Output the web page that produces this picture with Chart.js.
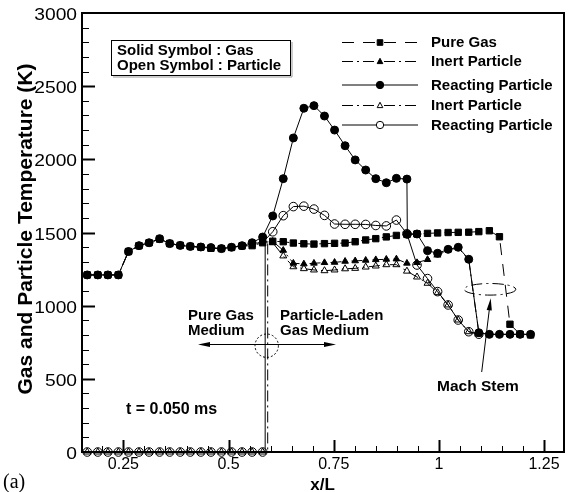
<!DOCTYPE html>
<html>
<head>
<meta charset="utf-8">
<script src="https://cdn.jsdelivr.net/npm/chart.js@4.4.1/dist/chart.umd.min.js"></script>
<style>
    html, body { margin: 0; padding: 0; background: #fff; }
    canvas { display: block; }
</style>
</head>
<body>
<canvas id="Chart" width="571" height="492"></canvas>
<script>
// x/L positions of the plotted symbols
const xL = [0.164, 0.189, 0.213, 0.238, 0.262, 0.287, 0.311, 0.336, 0.360, 0.385, 0.409, 0.434, 0.458, 0.483, 0.507,
    0.532, 0.556, 0.581, 0.605, 0.630, 0.654, 0.679, 0.703, 0.728, 0.752, 0.777, 0.801, 0.826, 0.850, 0.875,
    0.899, 0.924, 0.948, 0.973, 0.997, 1.022, 1.046, 1.071, 1.095, 1.120, 1.144, 1.169, 1.193, 1.218];

// temperatures (K)
const pureGas = [1210, 1210, 1210, 1210, 1370, 1410, 1430, 1455, 1425, 1412, 1405, 1400, 1392, 1390, 1398,
    1408, 1410, 1430, 1440, 1437, 1428, 1423, 1421, 1424, 1426, 1428, 1437, 1449, 1458, 1470,
    1480, 1487, 1490, 1494, 1497, 1500, 1501, 1502, 1506, 1512, 1471, 873, 805, 800];
const inertGas = [1210, 1210, 1210, 1210, 1370, 1410, 1430, 1455, 1425, 1412, 1405, 1400, 1392, 1390, 1398,
    1408, 1415, 1440, 1440, 1378, 1290, 1285, 1290, 1294, 1296, 1303, 1306, 1310, 1314, 1317,
    1319, 1290, 1294, 1315, 1345, 1380, 1395, 1315, 815, 804, 804, 804, 804, 804];
const reactGas = [1210, 1210, 1210, 1210, 1370, 1410, 1430, 1458, 1424, 1412, 1405, 1401, 1397, 1390, 1399,
    1410, 1430, 1469, 1613, 1868, 2146, 2349, 2367, 2296, 2200, 2093, 1996, 1927, 1868, 1840,
    1870, 1865, 1490, 1376, 1358, 1385, 1399, 1317, 815, 804, 804, 804, 804, 804];
const inertPart = [0, 0, 0, 0, 0, 0, 0, 0, 0, 0, 0, 0, 0, 0, 0,
    0, 0, 0, 1430, 1340, 1266, 1253, 1244, 1239, 1244, 1252, 1255, 1264, 1271, 1280,
    1280, 1236, 1196, 1153, 1089, 1005, 902, 822, 805, null, null, null, null, null];
const reactPart = [0, 0, 0, 0, 0, 0, 0, 0, 0, 0, 0, 0, 0, 0, 0,
    0, 0, 0, 1505, 1615, 1677, 1680, 1660, 1617, 1558, 1556, 1556, 1555, 1548, 1545,
    1585, 1492, 1278, 1185, 1096, 1005, 902, 822, 805, null, null, null, null, null];

// extra curve points between symbols [x, y]
const reactGasExtra = [[0.925, 1488]];
const inertPartShock = [[0.593, 0], [0.593, 1440]];
const reactPartShock = [[0.587, 0], [0.587, 1450]];

const xTicks = [0.25, 0.5, 0.75, 1, 1.25];
const xTickLabels = ['0.25', '0.5', '0.75', '1', '1.25'];
const yTicks = [0, 500, 1000, 1500, 2000, 2500, 3000];
const yTickLabels = ['0', '500', '1000', '1500', '2000', '2500', '3000'];

const legendLabels = ['Pure Gas', 'Inert Particle', 'Reacting Particle', 'Inert Particle', 'Reacting Particle'];

const SANS = '"Liberation Sans", Arial, Helvetica, sans-serif';
const DASH = [12, 9];
const DASHDOT = [11, 4, 2, 4];

function points(ys, extra, mark) {
    const pts = [];
    ys.forEach((y, i) => { if (y !== null) pts.push({ x: xL[i], y: y, m: true }); });
    (extra || []).forEach(p => pts.push({ x: p[0], y: p[1], m: !!mark }));
    return pts.sort((a, b) => a.x - b.x);
}

function series(label, data, style, filled, dash, order, r) {
    return {
        label: label,
        data: data,
        borderColor: '#000',
        borderWidth: 1,
        borderDash: dash,
        pointStyle: style,
        pointBackgroundColor: filled ? '#000' : 'rgba(0,0,0,0)',
        pointBorderColor: '#000',
        pointBorderWidth: 1,
        pointRadius: c => (c.raw && c.raw.m ? r : 0),
        pointHoverRadius: 0,
        tension: 0,
        fill: false,
        clip: false,
        order: order
    };
}

function marker(ctx, style, filled, x, y, r) {
    ctx.save();
    ctx.setLineDash([]);
    ctx.lineWidth = 1;
    ctx.strokeStyle = '#000';
    ctx.fillStyle = filled ? '#000' : '#fff';
    ctx.beginPath();
    if (style === 'rect') {
        ctx.rect(x - r, y - r, 2 * r, 2 * r);
    } else if (style === 'triangle') {
        ctx.moveTo(x, y - r * 1.15);
        ctx.lineTo(x + r, y + r * 0.75);
        ctx.lineTo(x - r, y + r * 0.75);
        ctx.closePath();
    } else {
        ctx.arc(x, y, r, 0, Math.PI * 2);
    }
    ctx.fill();
    ctx.stroke();
    ctx.restore();
}

function arrowHead(ctx, x1, y1, x2, y2, len, half) {
    const a = Math.atan2(y2 - y1, x2 - x1);
    ctx.beginPath();
    ctx.moveTo(x2, y2);
    ctx.lineTo(x2 - len * Math.cos(a) + half * Math.sin(a), y2 - len * Math.sin(a) - half * Math.cos(a));
    ctx.lineTo(x2 - len * Math.cos(a) - half * Math.sin(a), y2 - len * Math.sin(a) + half * Math.cos(a));
    ctx.closePath();
    ctx.fill();
}

const decor = {
    id: 'decor',
    afterDraw(chart) {
        const ctx = chart.ctx;
        const a = chart.chartArea;
        const xs = chart.scales.x, ys = chart.scales.y;
        ctx.save();
        ctx.strokeStyle = '#000';
        ctx.fillStyle = '#000';

        // frame
        ctx.lineWidth = 2;
        ctx.strokeRect(a.left, a.top, a.right - a.left, a.bottom - a.top);

        // inward ticks
        for (let v = 100; v < 3000; v += 100) {
            const major = v % 500 === 0;
            const py = Math.round(ys.getPixelForValue(v)) + 0.5;
            ctx.lineWidth = major ? 2 : 1;
            ctx.beginPath();
            ctx.moveTo(a.left, py);
            ctx.lineTo(a.left + (major ? 13 : 7), py);
            ctx.stroke();
        }
        for (let k = 4; k <= 25; k++) {
            const v = k * 0.05;
            const major = k % 5 === 0;
            const px = Math.round(xs.getPixelForValue(v)) + 0.5;
            ctx.lineWidth = major ? 2 : 1;
            ctx.beginPath();
            ctx.moveTo(px, a.bottom);
            ctx.lineTo(px, a.bottom - (major ? 12 : 6));
            ctx.stroke();
        }

        // tick labels
        ctx.font = '16px ' + SANS;
        ctx.textAlign = 'right';
        ctx.textBaseline = 'alphabetic';
        yTicks.forEach((v, i) => {
            ctx.save();
            ctx.translate(a.left - 5, ys.getPixelForValue(v) + 7);
            ctx.scale(1.2, 1);
            ctx.fillText(yTickLabels[i], 0, 0);
            ctx.restore();
        });
        ctx.textAlign = 'center';
        xTicks.forEach((v, i) => {
            ctx.fillText(xTickLabels[i], xs.getPixelForValue(v), 468.5);
        });

        // axis titles
        ctx.font = 'bold 17px ' + SANS;
        ctx.fillText('x/L', 322.5, 490);
        ctx.save();
        ctx.translate(31.7, 229);
        ctx.rotate(-Math.PI / 2);
        ctx.font = 'bold 21px ' + SANS;
        ctx.fillText('Gas and Particle Temperature (K)', 0, 0);
        ctx.restore();

        ctx.font = '20px "Liberation Serif", "Times New Roman", serif';
        ctx.textAlign = 'left';
        ctx.fillText('(a)', 3, 488);

        // legend
        const rows = [42, 61, 84.5, 105, 124.5];
        const styles = [['rect', true, DASH], ['triangle', true, DASHDOT], ['circle', true, []],
            ['triangle', false, DASHDOT], ['circle', false, []]];
        ctx.font = 'bold 15px ' + SANS;
        ctx.textBaseline = 'middle';
        rows.forEach((y, i) => {
            ctx.lineWidth = 1;
            ctx.setLineDash(styles[i][2]);
            ctx.beginPath();
            ctx.moveTo(342, y + 0.5);
            ctx.lineTo(418, y + 0.5);
            ctx.stroke();
            ctx.setLineDash([]);
            marker(ctx, styles[i][0], styles[i][1], 380, y + 0.5, styles[i][0] === 'circle' ? 3.7 : 2.8);
            ctx.fillStyle = '#000';
            ctx.fillText(legendLabels[i], 431, y + 1);
        });

        // symbol key box
        ctx.lineWidth = 1;
        ctx.strokeStyle = '#999';
        ctx.beginPath();
        ctx.moveTo(292, 42); ctx.lineTo(292, 77); ctx.lineTo(113, 77);
        ctx.stroke();
        ctx.strokeStyle = '#000';
        ctx.strokeRect(111.5, 40.5, 179, 35);
        ctx.font = 'bold 15px ' + SANS;
        ctx.textBaseline = 'alphabetic';
        ctx.fillText('Solid Symbol : Gas', 117, 55);
        ctx.fillText('Open Symbol : Particle', 117, 70);

        // medium annotation
        ctx.fillText('Pure Gas', 188, 320);
        ctx.fillText('Medium', 188, 335);
        ctx.fillText('Particle-Laden', 280, 320);
        ctx.fillText('Gas Medium', 280, 335);
        ctx.lineWidth = 1;
        ctx.beginPath();
        ctx.moveTo(204, 344.5);
        ctx.lineTo(330, 344.5);
        ctx.stroke();
        arrowHead(ctx, 260, 344.5, 198, 344.5, 12, 2.6);
        arrowHead(ctx, 270, 344.5, 336, 344.5, 12, 2.6);
        ctx.setLineDash([2, 2]);
        ctx.beginPath();
        ctx.arc(266.7, 345.7, 11.7, 0, Math.PI * 2);
        ctx.stroke();
        ctx.setLineDash([]);

        ctx.font = 'bold 16px ' + SANS;
        ctx.fillText('t = 0.050 ms', 126, 414);

        // mach stem annotation
        ctx.font = 'bold 15.5px ' + SANS;
        ctx.fillText('Mach Stem', 437, 391);
        ctx.beginPath();
        ctx.moveTo(481.7, 372);
        ctx.lineTo(489.5, 308);
        ctx.stroke();
        arrowHead(ctx, 481.7, 372, 490.7, 298.3, 12, 2.6);
        ctx.setLineDash(DASHDOT);
        ctx.beginPath();
        ctx.ellipse(490, 289.3, 25.8, 5.8, 0, 0, Math.PI * 2);
        ctx.stroke();
        ctx.setLineDash([]);

        ctx.restore();
    }
};

new Chart(document.getElementById('Chart').getContext('2d'), {
    type: 'line',
    data: {
        datasets: [
            series('Pure Gas', points(pureGas), 'rect', true, DASH, 5, 4.5),
            series('Inert Particle', points(inertGas), 'triangle', true, DASHDOT, 4, 3.8),
            series('Reacting Particle', points(reactGas, reactGasExtra, true), 'circle', true, [], 3, 4),
            series('Inert Particle', points(inertPart, inertPartShock), 'triangle', false, DASHDOT, 2, 4),
            series('Reacting Particle', points(reactPart, reactPartShock), 'circle', false, [], 1, 4.3)
        ]
    },
    options: {
        responsive: false,
        animation: false,
        events: [],
        layout: { padding: { top: 13, right: 7, left: 0, bottom: 0 } },
        plugins: { legend: { display: false }, tooltip: { enabled: false } },
        scales: {
            x: {
                type: 'linear', min: 0.1515, max: 1.2975,
                grid: { display: false }, border: { display: false }, ticks: { display: false },
                afterFit: s => { s.height = 40; }
            },
            y: {
                type: 'linear', min: 0, max: 3000,
                grid: { display: false }, border: { display: false }, ticks: { display: false },
                afterFit: s => { s.width = 82; }
            }
        }
    },
    plugins: [decor]
});
</script>
</body>
</html>
